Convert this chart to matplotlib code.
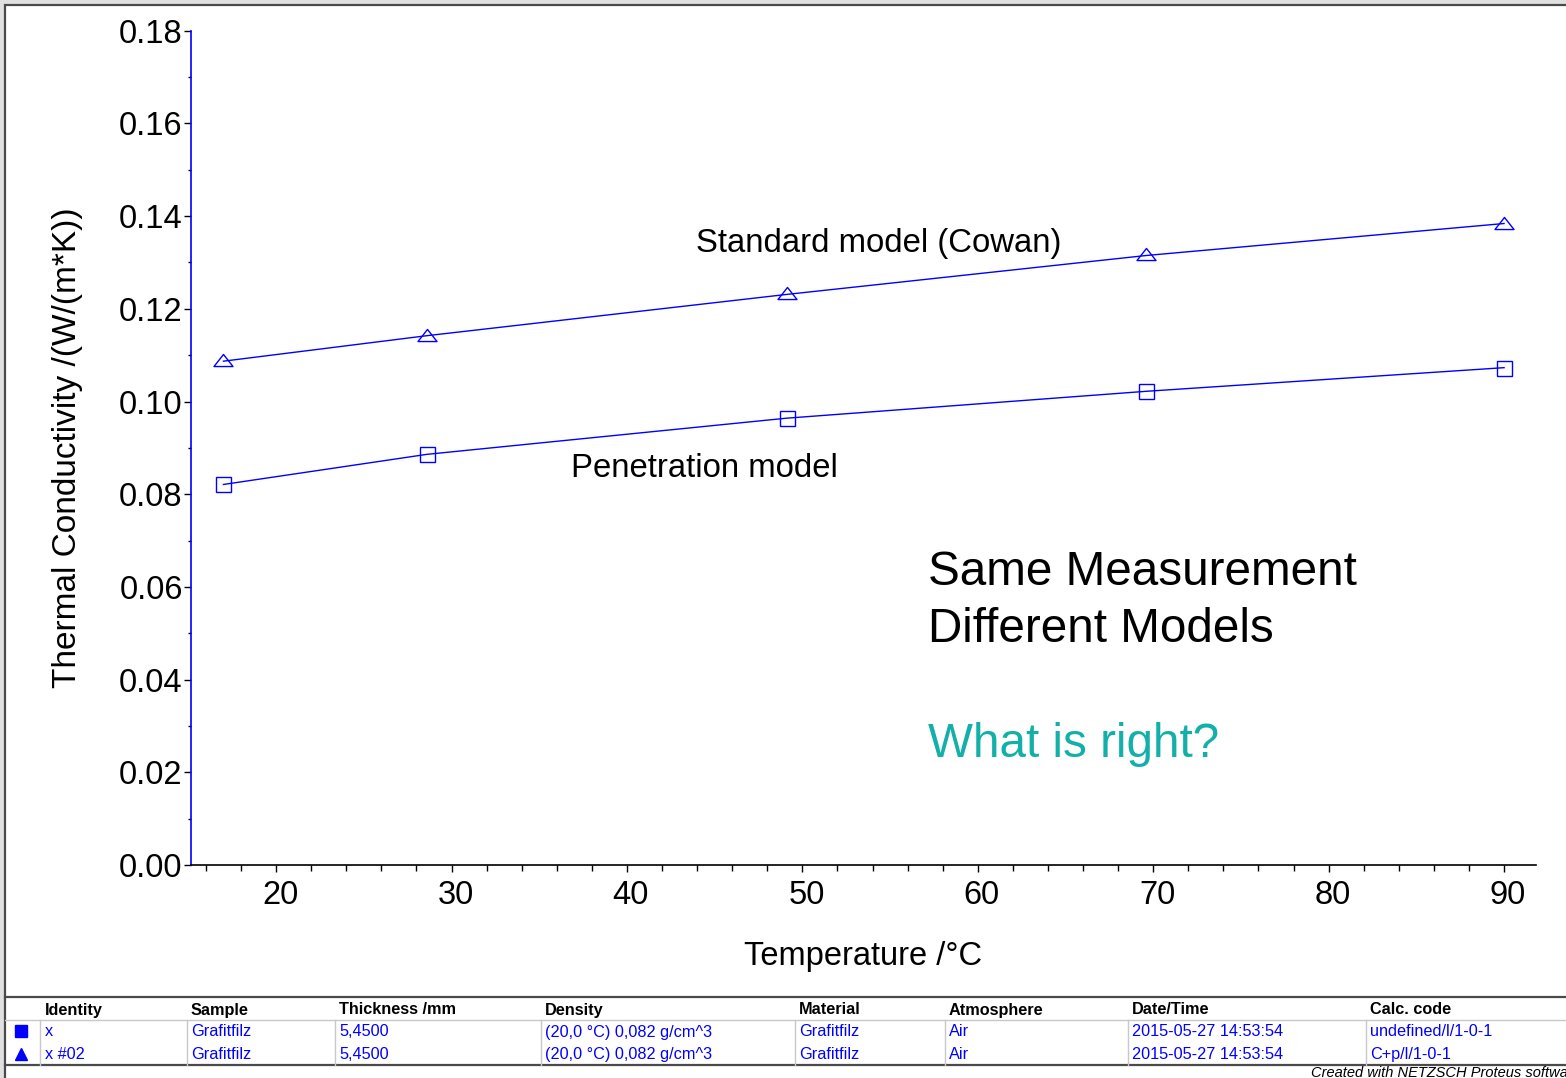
import matplotlib.pyplot as plt
from matplotlib.path import Path
from matplotlib.patches import Rectangle
from matplotlib.ticker import MultipleLocator
from matplotlib.transforms import ScaledTranslation

plt.rcParams['font.family'] = ['Liberation Sans', 'DejaVu Sans']

# measured points, temperature in °C
temperature = [17.0, 28.6, 49.1, 69.6, 90.0]
k_cowan = [0.1087, 0.1142, 0.1231, 0.1315, 0.1384]
k_penetration = [0.0821, 0.0886, 0.0964, 0.1022, 0.1073]

# sample info table under the plot
table_header = ['Identity', 'Sample', 'Thickness /mm', 'Density', 'Material',
                'Atmosphere', 'Date/Time', 'Calc. code']
table_rows = [
    ['x', 'Grafitfilz', '5,4500', '(20,0 °C) 0,082 g/cm^3', 'Grafitfilz', 'Air',
     '2015-05-27 14:53:54', 'undefined/l/1-0-1'],
    ['x #02', 'Grafitfilz', '5,4500', '(20,0 °C) 0,082 g/cm^3', 'Grafitfilz', 'Air',
     '2015-05-27 14:53:54', 'C+p/l/1-0-1'],
]
row_symbols = ['s', '^']

BLUE = '#0000ff'
W, H = 1566, 1078
fig = plt.figure(figsize=(W / 100, H / 100), dpi=100)
fig.patch.set_facecolor('#e0e0e0')

# page overlay in pixel coordinates
page = fig.add_axes([0, 0, 1, 1], zorder=-1)
page.set_xlim(0, W)
page.set_ylim(H, 0)
page.axis('off')
page.add_patch(Rectangle((5, 5), W + 10, H + 10, facecolor='white',
                         edgecolor='#4a4a4a', linewidth=1.6))

# flattened open triangle marker
tri = Path([(-1, -0.53), (1, -0.53), (0, 0.74), (-1, -0.53)],
           [Path.MOVETO, Path.LINETO, Path.LINETO, Path.CLOSEPOLY])

ax = fig.add_axes([191 / W, 1 - 865 / H, (1536 - 191) / W, (865 - 30.7) / H])
ax.patch.set_alpha(0)
ax.plot(temperature, k_cowan, '-', color=BLUE, lw=1.0, marker=tri, ms=13.7,
        mfc='none', mec=BLUE, mew=1.0, clip_on=False)
ax.plot(temperature, k_penetration, '-', color=BLUE, lw=1.0, marker='s', ms=10.8,
        mfc='none', mec=BLUE, mew=1.0, clip_on=False)

ax.set_xlim(15.15, 91.82)
ax.set_ylim(0, 0.18)
ax.xaxis.set_major_locator(MultipleLocator(10))
ax.xaxis.set_minor_locator(MultipleLocator(2))
ax.yaxis.set_major_locator(MultipleLocator(0.02))
ax.yaxis.set_minor_locator(MultipleLocator(0.01))
ax.yaxis.set_major_formatter(lambda v, p: f'{v:.2f}')

for s in ['top', 'right']:
    ax.spines[s].set_visible(False)
ax.spines['left'].set_color(BLUE)
ax.spines['left'].set_linewidth(1.2)
ax.spines['bottom'].set_linewidth(1.2)

ax.tick_params(axis='both', which='both', direction='out', width=1, colors='black',
               labelsize=23.5)
ax.tick_params(axis='y', which='major', length=5, pad=1)
ax.tick_params(axis='y', which='minor', length=2.5)
ax.tick_params(axis='x', which='major', length=5, pad=5.5)
ax.tick_params(axis='x', which='minor', length=4)

# x tick labels sit a few pixels right of their ticks
shift = ScaledTranslation(4 / 100, 0, fig.dpi_scale_trans)
for lbl in ax.get_xticklabels():
    lbl.set_transform(lbl.get_transform() + shift)

ax.set_xlabel('Temperature /°C', fontsize=23.5, labelpad=22)
ax.set_ylabel('Thermal Conductivity /(W/(m*K))', fontsize=24, labelpad=26)

ax.text(43.95, 0.1323, 'Standard model (Cowan)', fontsize=23.7, ha='left', va='baseline')
ax.text(36.82, 0.0837, 'Penetration model', fontsize=23.7, ha='left', va='baseline')
ax.text(57.17, 0.0604, 'Same Measurement', fontsize=34.3, ha='left', va='baseline')
ax.text(57.17, 0.0481, 'Different Models', fontsize=34.3, ha='left', va='baseline')
ax.text(57.17, 0.0233, 'What is right?', fontsize=34.3, ha='left', va='baseline',
        color='#12b0a8')

# table grid
col_sep = [40, 187, 335, 541, 795, 945, 1128, 1366]
col_text = [45, 191, 339, 545, 799, 949, 1132, 1370]
page.plot([5, W], [997, 997], color='#4a4a4a', lw=1.6)
page.plot([5, W], [1020, 1020], color='#c8c8c8', lw=1.0)
page.plot([5, W], [1065, 1065], color='#4a4a4a', lw=1.6)
for xs in col_sep:
    page.plot([xs, xs], [1020, 1065], color='#c8c8c8', lw=1.0)

for xt, label in zip(col_text, table_header):
    page.text(xt, 1014.5, label, fontsize=11.7, fontweight='bold', ha='left', va='baseline')

row_y = [1036.5, 1059]
for yr, sym, row in zip(row_y, row_symbols, table_rows):
    page.plot([21], [yr - 5.5], marker=sym, ms=8, color=BLUE, linestyle='none')
    for xt, cell in zip(col_text, row):
        page.text(xt, yr, cell, fontsize=11.7, color=BLUE, ha='left', va='baseline')

page.text(1311, 1077, 'Created with NETZSCH Proteus software', fontsize=10.5,
          style='italic', ha='left', va='baseline')

fig.savefig('out.png', dpi=100)
